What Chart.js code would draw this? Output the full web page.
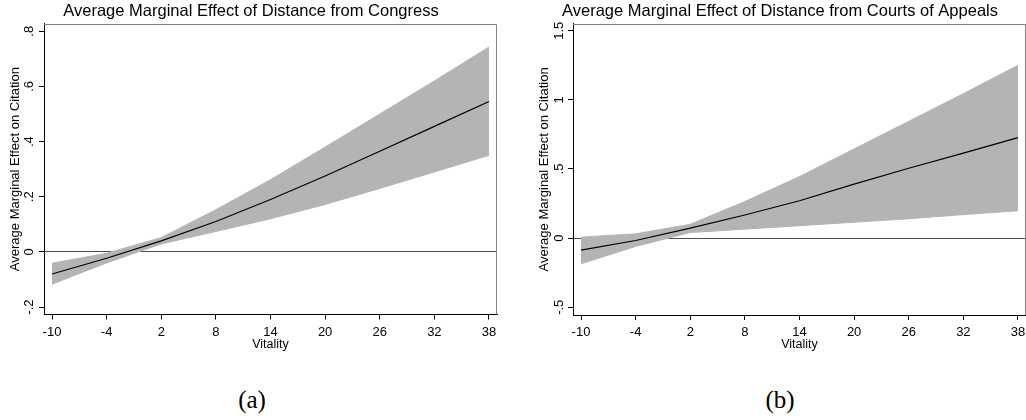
<!DOCTYPE html>
<html>
<head>
<meta charset="utf-8">
<script src="https://cdn.jsdelivr.net/npm/chart.js@4.4.0/dist/chart.umd.min.js"></script>
<style>
  body { margin: 0; background: #fff; width: 1026px; height: 420px; position: relative; overflow: hidden; }
  canvas { position: absolute; top: 0; }
  #chartA { left: 0; }
  #chartB { left: 534px; }
  .cap { position: absolute; top: 385px; width: 100px; text-align: center;
         font-family: "Liberation Serif", "DejaVu Serif", serif; font-size: 25px; line-height: 30px; color: #000; }
</style>
</head>
<body>
<canvas id="chartA" width="507" height="370"></canvas>
<canvas id="chartB" width="502" height="370"></canvas>
<div class="cap" style="left:202px">(a)</div>
<div class="cap" style="left:730px">(b)</div>
<script>
// vitality values where the margins were evaluated
const vitality = [-10, -4, 2, 8, 14, 20, 26, 32, 38]
const xTicks = [-10, -4, 2, 8, 14, 20, 26, 32, 38]
const xLabels = ['-10', '-4', '2', '8', '14', '20', '26', '32', '38']

// (a) distance from Congress
const congressMean = [-0.080, -0.023, 0.040, 0.110, 0.190, 0.275, 0.365, 0.455, 0.545]
const congressUpper = [-0.041, -0.005, 0.052, 0.153, 0.262, 0.380, 0.500, 0.620, 0.743]
const congressLower = [-0.117, -0.040, 0.029, 0.074, 0.120, 0.172, 0.230, 0.290, 0.350]
const congressYTicks = [-0.2, 0, 0.2, 0.4, 0.6, 0.8]
const congressYLabels = ['-.2', '0', '.2', '.4', '.6', '.8']

// (b) distance from Courts of Appeals
const appealsMean = [-0.087, -0.017, 0.072, 0.167, 0.270, 0.390, 0.505, 0.615, 0.727]
const appealsUpper = [0.007, 0.031, 0.100, 0.265, 0.445, 0.645, 0.845, 1.045, 1.250]
const appealsLower = [-0.186, -0.060, 0.040, 0.065, 0.090, 0.115, 0.140, 0.170, 0.198]
const appealsYTicks = [-0.5, 0, 0.5, 1, 1.5]
const appealsYLabels = ['-.5', '0', '.5', '1', '1.5']

Chart.defaults.font.family = '"Liberation Sans", Arial, sans-serif'
Chart.defaults.color = '#000'

const band = '#b4b4b4'

function pts(arr) {
    return vitality.map((x, i) => ({ x: x, y: arr[i] }))
}

// gray outline on the top and right of the plot region
const framePlugin = {
    id: 'frame',
    afterDatasetsDraw(chart) {
        const a = chart.chartArea
        const ctx = chart.ctx
        ctx.save()
        ctx.strokeStyle = '#808080'
        ctx.lineWidth = 1
        ctx.beginPath()
        ctx.moveTo(a.left, Math.round(a.top) + 0.5)
        ctx.lineTo(Math.round(a.right) - 0.5, Math.round(a.top) + 0.5)
        ctx.lineTo(Math.round(a.right) - 0.5, a.bottom)
        ctx.stroke()
        ctx.restore()
    }
}

function makeChart(id, cfg) {
    return new Chart(document.getElementById(id), {
        type: 'line',
        data: {
            datasets: [
                // CI band: upper filled down to lower
                { data: pts(cfg.upper), order: 2, borderColor: band, borderWidth: 1, backgroundColor: band, fill: '+1', pointRadius: 0, tension: 0 },
                { data: pts(cfg.lower), order: 3, borderColor: band, borderWidth: 1, fill: false, pointRadius: 0, tension: 0 },
                // margins line on top
                { data: pts(cfg.mean), order: 0, borderColor: '#000', borderWidth: 1.2, fill: false, pointRadius: 0, tension: 0 }
            ]
        },
        options: {
            responsive: false,
            animation: false,
            devicePixelRatio: 1,
            layout: { padding: { left: cfg.padLeft, right: 10, top: 0, bottom: 0 } },
            plugins: {
                legend: { display: false },
                tooltip: { enabled: false },
                title: {
                    display: true,
                    text: cfg.title,
                    color: '#000',
                    font: { size: 16.5, weight: 'normal' },
                    padding: { top: 2, bottom: 2 }
                }
            },
            scales: {
                x: {
                    type: 'linear',
                    min: -10.88,
                    max: 38.88,
                    afterBuildTicks: s => { s.ticks = xTicks.map(v => ({ value: v })) },
                    afterFit: s => { s.height = cfg.xHeight },
                    ticks: { autoSkip: false, maxRotation: 0, padding: 5, color: '#000', font: { size: 13 },
                        callback: (v, i) => xLabels[i] },
                    grid: { color: 'rgba(0,0,0,0)', tickColor: '#000', tickLength: 5 },
                    border: { display: true, color: '#000', width: 1 },
                    title: { display: true, text: 'Vitality', color: '#000', font: { size: 12.5 }, padding: { top: 0, bottom: 17.5 } }
                },
                y: {
                    type: 'linear',
                    min: cfg.yMin,
                    max: cfg.yMax,
                    afterBuildTicks: s => { s.ticks = cfg.yTicks.map(v => ({ value: v })) },
                    afterFit: s => { s.width = 39 },
                    ticks: { minRotation: 90, maxRotation: 90, crossAlign: 'center', padding: cfg.tickPad,
                        color: '#000', font: { size: 13 }, callback: (v, i) => cfg.yLabels[i] },
                    grid: {
                        color: c => (c.tick && c.tick.value === 0) ? '#4d4d4d' : 'rgba(0,0,0,0)',
                        tickColor: '#000',
                        tickLength: 5
                    },
                    border: { display: true, color: '#000', width: 1 },
                    title: { display: true, text: 'Average Marginal Effect on Citation', color: '#000',
                        font: { size: 13 }, padding: { top: 2.5, bottom: 0 } }
                }
            }
        },
        plugins: [framePlugin]
    })
}

makeChart('chartA', {
    title: 'Average Marginal Effect of Distance from Congress',
    mean: congressMean, upper: congressUpper, lower: congressLower,
    yTicks: congressYTicks, yLabels: congressYLabels,
    yMin: -0.227, yMax: 0.827,
    padLeft: 5, tickPad: 1.5, xHeight: 55.5
})

makeChart('chartB', {
    title: 'Average Marginal Effect of Distance from Courts of Appeals',
    mean: appealsMean, upper: appealsUpper, lower: appealsLower,
    yTicks: appealsYTicks, yLabels: appealsYLabels,
    yMin: -0.556, yMax: 1.55,
    padLeft: 0, tickPad: 0, xHeight: 55
})
</script>
</body>
</html>
